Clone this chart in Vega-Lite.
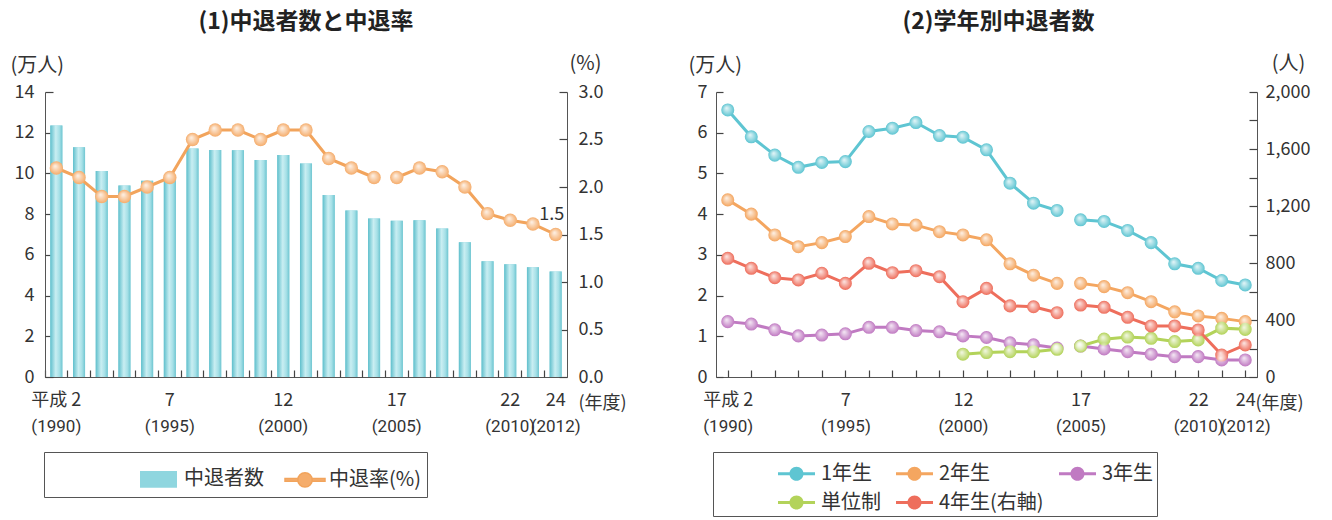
{
  "$schema": "https://vega.github.io/schema/vega-lite/v6.json",
  "background": "white",
  "padding": {"left": 10, "top": 11, "right": 5, "bottom": 0},
  "config": {
    "view": {"stroke": null},
    "font": "Noto Sans CJK JP",
    "axis": {"grid": false, "zindex": 1, "labelFont": "Noto Sans CJK JP", "labelFontSize": 18, "labelColor": "#333", "domainColor": "#555", "tickColor": "#444", "tickWidth": 1.2, "titleFont": "Noto Sans CJK JP", "titleFontSize": 20, "titleFontWeight": "normal", "titleColor": "#333"},
    "legend": {"labelFont": "Noto Sans CJK JP", "titleFont": "Noto Sans CJK JP", "labelColor": "#333"}
  },
  "spacing": 61,
  "resolve": {"scale": {"x": "independent", "y": "independent", "color": "independent", "stroke": "independent"}, "legend": {"color": "independent"}},
  "hconcat": [
    {
      "width": 522,
      "height": 285,
      "title": {"text": "(1)中退者数と中退率", "frame": "group", "fontSize": 23, "fontWeight": "bold", "font": "Noto Sans CJK JP", "color": "#222", "offset": 19},
      "data": {"values": [
        {"year": 1990, "count": 12.35, "rate": 2.2, "seg": "a"},
        {"year": 1991, "count": 11.29, "rate": 2.1, "seg": "a"},
        {"year": 1992, "count": 10.12, "rate": 1.9, "seg": "a"},
        {"year": 1993, "count": 9.41, "rate": 1.9, "seg": "a"},
        {"year": 1994, "count": 9.64, "rate": 2.0, "seg": "a"},
        {"year": 1995, "count": 9.82, "rate": 2.1, "seg": "a"},
        {"year": 1996, "count": 11.22, "rate": 2.5, "seg": "a"},
        {"year": 1997, "count": 11.15, "rate": 2.6, "seg": "a"},
        {"year": 1998, "count": 11.14, "rate": 2.6, "seg": "a"},
        {"year": 1999, "count": 10.66, "rate": 2.5, "seg": "a"},
        {"year": 2000, "count": 10.91, "rate": 2.6, "seg": "a"},
        {"year": 2001, "count": 10.49, "rate": 2.6, "seg": "a"},
        {"year": 2002, "count": 8.94, "rate": 2.3, "seg": "a"},
        {"year": 2003, "count": 8.18, "rate": 2.2, "seg": "a"},
        {"year": 2004, "count": 7.79, "rate": 2.1, "seg": "a"},
        {"year": 2005, "count": 7.67, "rate": 2.1, "seg": "b"},
        {"year": 2006, "count": 7.70, "rate": 2.2, "seg": "b"},
        {"year": 2007, "count": 7.29, "rate": 2.16, "seg": "b"},
        {"year": 2008, "count": 6.62, "rate": 2.0, "seg": "b"},
        {"year": 2009, "count": 5.69, "rate": 1.72, "seg": "b"},
        {"year": 2010, "count": 5.54, "rate": 1.65, "seg": "b"},
        {"year": 2011, "count": 5.39, "rate": 1.61, "seg": "b"},
        {"year": 2012, "count": 5.18, "rate": 1.5, "seg": "b"}
      ]},
      "resolve": {"scale": {"y": "independent"}, "axis": {"x": "independent", "y": "independent"}},
      "layer": [
        {
          "mark": {"type": "bar", "width": {"band": 0.53}},
          "encoding": {
            "x": {"field": "year", "type": "ordinal", "scale": {"paddingInner": 0, "paddingOuter": 0},
              "axis": {"orient": "bottom", "ticks": false, "labelPadding": 14, "labelAngle": 0, "labelOverlap": false,
                "labelExpr": "datum.value == 1990 ? '平成 2' : datum.value == 1995 ? '7' : datum.value == 2000 ? '12' : datum.value == 2005 ? '17' : datum.value == 2010 ? '22' : datum.value == 2012 ? '24' : ''",
                "title": "(年度)", "titleX": 533, "titleY": 17, "titleAlign": "left", "titleBaseline": "top", "titleFontSize": 18}},
            "y": {"field": "count", "type": "quantitative", "scale": {"domain": [0, 14], "nice": false},
              "axis": {"orient": "left", "values": [0, 2, 4, 6, 8, 10, 12, 14], "ticks": false, "labelPadding": 11, "title": "(万人)", "titleAngle": 0, "titleAlign": "left", "titleBaseline": "middle", "titleX": -35, "titleY": -27}},
            "color": {"datum": "中退者数", "type": "nominal",
              "scale": {"domain": ["中退者数", "中退率(%)"], "range": ["#8fd6df", "#f5ad6c"]},
              "legend": {"title": " ", "titleOrient": "left", "titlePadding": 89, "orient": "none", "legendX": -1, "legendY": 360, "direction": "horizontal", "columns": 2, "gridAlign": "all", "columnPadding": 6, "padding": 6, "strokeColor": "#555", "fillColor": "#fff", "labelFontSize": 20, "labelOffset": 3, "symbolSize": 1600,
                "symbolType": {"expr": "datum.value == '中退者数' ? 'M-1,-0.42H0.85V0.42H-1Z' : 'M-1,-0.07H-0.36V0.07H-1Z M0.36,-0.07H1V0.07H0.36Z M0.36,0A0.36,0.36,0,1,1,-0.36,0A0.36,0.36,0,1,1,0.36,0Z'"},
                "symbolStrokeColor": {"expr": "datum.value == '中退者数' ? 'transparent' : '#f2a45c'"}, "symbolStrokeWidth": 1.5}}
          }
        },
        {
          "mark": {"type": "bar", "width": {"band": 0.53},
            "fill": {"gradient": "linear", "x1": 0, "y1": 0, "x2": 1, "y2": 0, "stops": [{"offset": 0, "color": "#5fbfcc"}, {"offset": 0.45, "color": "#c9eef2"}, {"offset": 0.75, "color": "#a6e0e7"}, {"offset": 1, "color": "#6fc6d1"}]}},
          "encoding": {
            "x": {"field": "year", "type": "ordinal",
              "axis": {"orient": "bottom", "bandPosition": 0, "offset": -7, "tickSize": 7, "domain": false, "labels": false, "title": null}},
            "y": {"field": "count", "type": "quantitative", "scale": {"domain": [0, 14], "nice": false},
              "axis": {"orient": "left", "values": [0, 2, 4, 6, 8, 10, 12, 14], "offset": -8, "tickSize": 8, "domain": false, "labels": false, "title": null}}
          }
        },
        {
          "layer": [
            {
              "mark": {"type": "line", "stroke": "#f2a45c", "strokeWidth": 3},
              "encoding": {
                "x": {"field": "year", "type": "ordinal",
                  "axis": {"orient": "bottom", "domain": false, "ticks": false, "labelPadding": 41, "labelAngle": 0, "labelOverlap": false, "labelFont": "'Liberation Sans Narrow', Roboto, sans-serif", "labelFontSize": 17, "title": null,
                    "labelExpr": "indexof([1990, 1995, 2000, 2005, 2010, 2012], datum.value) >= 0 ? '(' + datum.value + ')' : ''"}},
                "y": {"field": "rate", "type": "quantitative", "scale": {"domain": [0, 3], "nice": false},
                  "axis": {"orient": "right", "values": [0, 0.5, 1, 1.5, 2, 2.5, 3], "format": ".1f", "ticks": false, "labelPadding": 11, "title": "(%)", "titleAngle": 0, "titleAlign": "left", "titleBaseline": "middle", "titleX": 2, "titleY": -29}},
                "detail": {"field": "seg"}
              }
            },
            {
              "mark": {"type": "point", "filled": true, "size": 180, "opacity": 1},
              "encoding": {
                "x": {"field": "year", "type": "ordinal"},
                "y": {"field": "rate", "type": "quantitative"},
                "color": {"datum": "中退率(%)", "type": "nominal"}
              }
            },
            {
              "transform": [{"filter": "datum.year == 2012"}],
              "mark": {"type": "text", "dy": -20, "dx": -4, "fontSize": 18, "color": "#333", "font": "Noto Sans CJK JP"},
              "encoding": {
                "x": {"field": "year", "type": "ordinal"},
                "y": {"field": "rate", "type": "quantitative"},
                "text": {"field": "rate", "type": "quantitative", "format": ".1f"}
              }
            }
          ]
        },
        {
          "mark": {"type": "point", "filled": true, "size": 180, "opacity": 1, "strokeWidth": 0,
            "fill": {"gradient": "radial", "x1": 0.4, "y1": 0.35, "r1": 0, "x2": 0.5, "y2": 0.5, "r2": 0.5, "stops": [{"offset": 0, "color": "rgba(255,255,255,0.85)"}, {"offset": 1, "color": "rgba(255,255,255,0)"}]}},
          "encoding": {
            "x": {"field": "year", "type": "ordinal", "axis": null},
            "y": {"field": "rate", "type": "quantitative", "scale": {"domain": [0, 3], "nice": false},
              "axis": {"orient": "right", "values": [0, 0.5, 1, 1.5, 2, 2.5, 3], "offset": -8, "tickSize": 8, "domain": false, "labels": false, "title": null}}
          }
        }
      ]
    },
    {
      "width": 541,
      "height": 285,
      "title": {"text": "(2)学年別中退者数", "frame": "group", "dx": 12, "fontSize": 23, "fontWeight": "bold", "font": "Noto Sans CJK JP", "color": "#222", "offset": 19},
      "data": {"values": [
        {"year": 1990, "grade": "1年生", "v": 6.56, "seg": "a"},
        {"year": 1991, "grade": "1年生", "v": 5.90, "seg": "a"},
        {"year": 1992, "grade": "1年生", "v": 5.45, "seg": "a"},
        {"year": 1993, "grade": "1年生", "v": 5.15, "seg": "a"},
        {"year": 1994, "grade": "1年生", "v": 5.27, "seg": "a"},
        {"year": 1995, "grade": "1年生", "v": 5.29, "seg": "a"},
        {"year": 1996, "grade": "1年生", "v": 6.03, "seg": "a"},
        {"year": 1997, "grade": "1年生", "v": 6.11, "seg": "a"},
        {"year": 1998, "grade": "1年生", "v": 6.25, "seg": "a"},
        {"year": 1999, "grade": "1年生", "v": 5.93, "seg": "a"},
        {"year": 2000, "grade": "1年生", "v": 5.89, "seg": "a"},
        {"year": 2001, "grade": "1年生", "v": 5.58, "seg": "a"},
        {"year": 2002, "grade": "1年生", "v": 4.76, "seg": "a"},
        {"year": 2003, "grade": "1年生", "v": 4.27, "seg": "a"},
        {"year": 2004, "grade": "1年生", "v": 4.09, "seg": "a"},
        {"year": 2005, "grade": "1年生", "v": 3.86, "seg": "b"},
        {"year": 2006, "grade": "1年生", "v": 3.82, "seg": "b"},
        {"year": 2007, "grade": "1年生", "v": 3.60, "seg": "b"},
        {"year": 2008, "grade": "1年生", "v": 3.30, "seg": "b"},
        {"year": 2009, "grade": "1年生", "v": 2.78, "seg": "b"},
        {"year": 2010, "grade": "1年生", "v": 2.67, "seg": "b"},
        {"year": 2011, "grade": "1年生", "v": 2.37, "seg": "b"},
        {"year": 2012, "grade": "1年生", "v": 2.26, "seg": "b"},
        {"year": 1990, "grade": "2年生", "v": 4.35, "seg": "a"},
        {"year": 1991, "grade": "2年生", "v": 4.00, "seg": "a"},
        {"year": 1992, "grade": "2年生", "v": 3.49, "seg": "a"},
        {"year": 1993, "grade": "2年生", "v": 3.20, "seg": "a"},
        {"year": 1994, "grade": "2年生", "v": 3.30, "seg": "a"},
        {"year": 1995, "grade": "2年生", "v": 3.45, "seg": "a"},
        {"year": 1996, "grade": "2年生", "v": 3.94, "seg": "a"},
        {"year": 1997, "grade": "2年生", "v": 3.76, "seg": "a"},
        {"year": 1998, "grade": "2年生", "v": 3.73, "seg": "a"},
        {"year": 1999, "grade": "2年生", "v": 3.57, "seg": "a"},
        {"year": 2000, "grade": "2年生", "v": 3.49, "seg": "a"},
        {"year": 2001, "grade": "2年生", "v": 3.37, "seg": "a"},
        {"year": 2002, "grade": "2年生", "v": 2.78, "seg": "a"},
        {"year": 2003, "grade": "2年生", "v": 2.50, "seg": "a"},
        {"year": 2004, "grade": "2年生", "v": 2.30, "seg": "a"},
        {"year": 2005, "grade": "2年生", "v": 2.30, "seg": "b"},
        {"year": 2006, "grade": "2年生", "v": 2.22, "seg": "b"},
        {"year": 2007, "grade": "2年生", "v": 2.07, "seg": "b"},
        {"year": 2008, "grade": "2年生", "v": 1.85, "seg": "b"},
        {"year": 2009, "grade": "2年生", "v": 1.60, "seg": "b"},
        {"year": 2010, "grade": "2年生", "v": 1.50, "seg": "b"},
        {"year": 2011, "grade": "2年生", "v": 1.44, "seg": "b"},
        {"year": 2012, "grade": "2年生", "v": 1.36, "seg": "b"},
        {"year": 1990, "grade": "3年生", "v": 1.36, "seg": "a"},
        {"year": 1991, "grade": "3年生", "v": 1.30, "seg": "a"},
        {"year": 1992, "grade": "3年生", "v": 1.16, "seg": "a"},
        {"year": 1993, "grade": "3年生", "v": 1.01, "seg": "a"},
        {"year": 1994, "grade": "3年生", "v": 1.03, "seg": "a"},
        {"year": 1995, "grade": "3年生", "v": 1.06, "seg": "a"},
        {"year": 1996, "grade": "3年生", "v": 1.22, "seg": "a"},
        {"year": 1997, "grade": "3年生", "v": 1.22, "seg": "a"},
        {"year": 1998, "grade": "3年生", "v": 1.14, "seg": "a"},
        {"year": 1999, "grade": "3年生", "v": 1.11, "seg": "a"},
        {"year": 2000, "grade": "3年生", "v": 1.01, "seg": "a"},
        {"year": 2001, "grade": "3年生", "v": 0.97, "seg": "a"},
        {"year": 2002, "grade": "3年生", "v": 0.84, "seg": "a"},
        {"year": 2003, "grade": "3年生", "v": 0.79, "seg": "a"},
        {"year": 2004, "grade": "3年生", "v": 0.71, "seg": "a"},
        {"year": 2005, "grade": "3年生", "v": 0.76, "seg": "b"},
        {"year": 2006, "grade": "3年生", "v": 0.69, "seg": "b"},
        {"year": 2007, "grade": "3年生", "v": 0.62, "seg": "b"},
        {"year": 2008, "grade": "3年生", "v": 0.56, "seg": "b"},
        {"year": 2009, "grade": "3年生", "v": 0.50, "seg": "b"},
        {"year": 2010, "grade": "3年生", "v": 0.50, "seg": "b"},
        {"year": 2011, "grade": "3年生", "v": 0.42, "seg": "b"},
        {"year": 2012, "grade": "3年生", "v": 0.42, "seg": "b"},
        {"year": 2000, "grade": "単位制", "v": 0.56, "seg": "a"},
        {"year": 2001, "grade": "単位制", "v": 0.60, "seg": "a"},
        {"year": 2002, "grade": "単位制", "v": 0.62, "seg": "a"},
        {"year": 2003, "grade": "単位制", "v": 0.62, "seg": "a"},
        {"year": 2004, "grade": "単位制", "v": 0.68, "seg": "a"},
        {"year": 2005, "grade": "単位制", "v": 0.76, "seg": "b"},
        {"year": 2006, "grade": "単位制", "v": 0.93, "seg": "b"},
        {"year": 2007, "grade": "単位制", "v": 0.98, "seg": "b"},
        {"year": 2008, "grade": "単位制", "v": 0.95, "seg": "b"},
        {"year": 2009, "grade": "単位制", "v": 0.87, "seg": "b"},
        {"year": 2010, "grade": "単位制", "v": 0.91, "seg": "b"},
        {"year": 2011, "grade": "単位制", "v": 1.20, "seg": "b"},
        {"year": 2012, "grade": "単位制", "v": 1.17, "seg": "b"},
        {"year": 1990, "grade": "4年生(右軸)", "v": 833, "seg": "a"},
        {"year": 1991, "grade": "4年生(右軸)", "v": 763, "seg": "a"},
        {"year": 1992, "grade": "4年生(右軸)", "v": 697, "seg": "a"},
        {"year": 1993, "grade": "4年生(右軸)", "v": 681, "seg": "a"},
        {"year": 1994, "grade": "4年生(右軸)", "v": 728, "seg": "a"},
        {"year": 1995, "grade": "4年生(右軸)", "v": 657, "seg": "a"},
        {"year": 1996, "grade": "4年生(右軸)", "v": 798, "seg": "a"},
        {"year": 1997, "grade": "4年生(右軸)", "v": 732, "seg": "a"},
        {"year": 1998, "grade": "4年生(右軸)", "v": 746, "seg": "a"},
        {"year": 1999, "grade": "4年生(右軸)", "v": 704, "seg": "a"},
        {"year": 2000, "grade": "4年生(右軸)", "v": 528, "seg": "a"},
        {"year": 2001, "grade": "4年生(右軸)", "v": 622, "seg": "a"},
        {"year": 2002, "grade": "4年生(右軸)", "v": 499, "seg": "a"},
        {"year": 2003, "grade": "4年生(右軸)", "v": 493, "seg": "a"},
        {"year": 2004, "grade": "4年生(右軸)", "v": 451, "seg": "a"},
        {"year": 2005, "grade": "4年生(右軸)", "v": 505, "seg": "b"},
        {"year": 2006, "grade": "4年生(右軸)", "v": 489, "seg": "b"},
        {"year": 2007, "grade": "4年生(右軸)", "v": 419, "seg": "b"},
        {"year": 2008, "grade": "4年生(右軸)", "v": 358, "seg": "b"},
        {"year": 2009, "grade": "4年生(右軸)", "v": 358, "seg": "b"},
        {"year": 2010, "grade": "4年生(右軸)", "v": 330, "seg": "b"},
        {"year": 2011, "grade": "4年生(右軸)", "v": 154, "seg": "b"},
        {"year": 2012, "grade": "4年生(右軸)", "v": 225, "seg": "b"}
      ]},
      "resolve": {"scale": {"y": "independent"}, "axis": {"x": "independent", "y": "independent"}},
      "layer": [
        {
          "transform": [{"filter": "datum.grade != '4年生(右軸)'"}],
          "layer": [
            {
              "mark": {"type": "line", "strokeWidth": 3},
              "encoding": {
                "x": {"field": "year", "type": "ordinal", "scale": {"paddingInner": 0, "paddingOuter": 0},
                  "axis": {"orient": "bottom", "ticks": false, "labelPadding": 14, "labelAngle": 0, "labelOverlap": false,
                    "labelExpr": "datum.value == 1990 ? '平成 2' : datum.value == 1995 ? '7' : datum.value == 2000 ? '12' : datum.value == 2005 ? '17' : datum.value == 2010 ? '22' : datum.value == 2012 ? '24' : ''",
                    "title": "(年度)", "titleX": 539, "titleY": 17, "titleAlign": "left", "titleBaseline": "top", "titleFontSize": 18}},
                "y": {"field": "v", "type": "quantitative", "scale": {"domain": [0, 7], "nice": false},
                  "axis": {"orient": "left", "values": [0, 1, 2, 3, 4, 5, 6, 7], "ticks": false, "labelPadding": 9, "title": "(万人)", "titleAngle": 0, "titleAlign": "left", "titleBaseline": "middle", "titleX": -28, "titleY": -27}},
                "stroke": {"field": "grade", "type": "nominal", "legend": null,
                  "scale": {"domain": ["4年生(右軸)", "1年生", "2年生", "3年生", "単位制"], "range": ["#ee6e5c", "#5ec5d2", "#f4a660", "#c07ac2", "#b3d35a"]}},
                "detail": {"field": "seg"}
              }
            },
            {
              "mark": {"type": "point", "filled": true, "size": 170, "opacity": 1},
              "encoding": {
                "x": {"field": "year", "type": "ordinal"},
                "y": {"field": "v", "type": "quantitative"},
                "color": {"field": "grade", "type": "nominal",
                  "scale": {"domain": ["1年生", "2年生", "3年生", "単位制", "4年生(右軸)"], "range": ["#5ec5d2", "#f4a660", "#c07ac2", "#b3d35a", "#ee6e5c"]},
                  "legend": {"title": " ", "titleOrient": "left", "titlePadding": 62, "orient": "none", "legendX": -3, "legendY": 360, "direction": "horizontal", "columns": 3, "gridAlign": "each", "columnPadding": 15, "rowPadding": -10, "padding": 3, "strokeColor": "#555", "fillColor": "#fff", "labelFontSize": 20, "labelOffset": 6, "symbolSize": 1369, "symbolStrokeWidth": 0,
                    "symbolType": "M-1,-0.08H1V0.08H-1Z M0.38,0A0.38,0.38,0,1,1,-0.38,0A0.38,0.38,0,1,1,0.38,0Z"}}
              }
            }
          ]
        },
        {
          "transform": [{"filter": "datum.grade == '4年生(右軸)'"}],
          "layer": [
            {
              "mark": {"type": "line", "strokeWidth": 3},
              "encoding": {
                "x": {"field": "year", "type": "ordinal",
                  "axis": {"orient": "bottom", "domain": false, "ticks": false, "labelPadding": 41, "labelAngle": 0, "labelOverlap": false, "labelFont": "'Liberation Sans Narrow', Roboto, sans-serif", "labelFontSize": 17, "title": null,
                    "labelExpr": "indexof([1990, 1995, 2000, 2005, 2010, 2012], datum.value) >= 0 ? '(' + datum.value + ')' : ''"}},
                "y": {"field": "v", "type": "quantitative", "scale": {"domain": [0, 2000], "nice": false},
                  "axis": {"orient": "right", "values": [0, 200, 400, 600, 800, 1000, 1200, 1400, 1600, 1800, 2000], "format": ",d", "ticks": false, "labelPadding": 8, "title": "(人)", "titleAngle": 0, "titleAlign": "center", "titleBaseline": "middle", "titleX": 31, "titleY": -29}},
                "stroke": {"field": "grade", "type": "nominal", "legend": null},
                "detail": {"field": "seg"}
              }
            },
            {
              "mark": {"type": "point", "filled": true, "size": 170, "opacity": 1},
              "encoding": {
                "x": {"field": "year", "type": "ordinal"},
                "y": {"field": "v", "type": "quantitative"},
                "color": {"field": "grade", "type": "nominal"}
              }
            }
          ]
        },
        {
          "transform": [{"filter": "datum.grade != '4年生(右軸)'"}],
          "mark": {"type": "point", "filled": true, "size": 170, "opacity": 1, "strokeWidth": 0,
            "fill": {"gradient": "radial", "x1": 0.4, "y1": 0.35, "r1": 0, "x2": 0.5, "y2": 0.5, "r2": 0.5, "stops": [{"offset": 0, "color": "rgba(255,255,255,0.85)"}, {"offset": 1, "color": "rgba(255,255,255,0)"}]}},
          "encoding": {
            "x": {"field": "year", "type": "ordinal",
              "axis": {"orient": "bottom", "bandPosition": 0, "offset": -7, "tickSize": 7, "domain": false, "labels": false, "title": null}},
            "y": {"field": "v", "type": "quantitative", "scale": {"domain": [0, 7], "nice": false},
              "axis": {"orient": "left", "values": [0, 1, 2, 3, 4, 5, 6, 7], "offset": -7, "tickSize": 7, "domain": false, "labels": false, "title": null}}
          }
        },
        {
          "transform": [{"filter": "datum.grade == '4年生(右軸)'"}],
          "mark": {"type": "point", "filled": true, "size": 170, "opacity": 1, "strokeWidth": 0,
            "fill": {"gradient": "radial", "x1": 0.4, "y1": 0.35, "r1": 0, "x2": 0.5, "y2": 0.5, "r2": 0.5, "stops": [{"offset": 0, "color": "rgba(255,255,255,0.85)"}, {"offset": 1, "color": "rgba(255,255,255,0)"}]}},
          "encoding": {
            "x": {"field": "year", "type": "ordinal", "axis": null},
            "y": {"field": "v", "type": "quantitative", "scale": {"domain": [0, 2000], "nice": false},
              "axis": {"orient": "right", "values": [0, 200, 400, 600, 800, 1000, 1200, 1400, 1600, 1800, 2000], "offset": -8, "tickSize": 8, "domain": false, "labels": false, "title": null}}
          }
        }
      ]
    }
  ]
}
